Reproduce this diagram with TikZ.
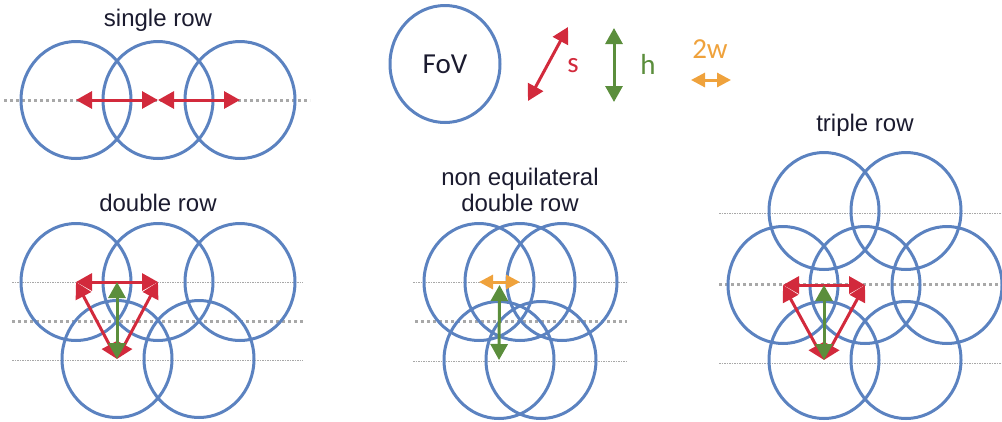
\documentclass[tikz,border=0pt]{standalone}
\usepackage{fontspec}
\setmainfont{Liberation Sans}
\newfontfamily\symfont{Carlito}
\usetikzlibrary{calc, arrows.meta}

\begin{document}
\begin{tikzpicture}[x=1pt, y=-1pt, >={Triangle[length=16pt, width=17pt]}]
    % --- Colores ---
    \definecolor{fovblue}{HTML}{5B82C0}
    \definecolor{sred}{HTML}{D22A3C}
    \definecolor{hgreen}{HTML}{5B8E3C}
    \definecolor{worange}{HTML}{EFA23C}
    \definecolor{rowgray}{HTML}{A8A8A8}
    \definecolor{titleink}{HTML}{1B1B2F}

    % --- Estilos ---
    \tikzset{
        fov/.style={fovblue, line width=3pt},
        rowthin/.style={rowgray, line width=1pt, dash pattern=on 1.5pt off 1pt},
        rowthick/.style={rowgray, line width=3pt, dash pattern=on 3pt off 3pt},
        sarrow/.style={sred, line width=3pt, <->},
        harrow/.style={hgreen, line width=3pt, <->},
        warrow/.style={worange, line width=3pt, <->, >={Triangle[length=14pt, width=14pt]}},
        title/.style={titleink, font=\fontsize{24}{26}\selectfont, align=center},
        sym/.style={font=\symfont\fontsize{29}{30}\selectfont}
    }
    \useasboundingbox (0,0) rectangle (1002,421);

    % --- Leyenda ---
    \coordinate (F) at (445,64);
    \draw[fov] (F) ellipse (55 and 58.5);
    \node[sym, titleink] at (F) {FoV};
    \coordinate (S1) at (568,27);
    \coordinate (S2) at (528,101);
    \draw[sarrow] (S1) -- (S2);
    \node[sym, sred] at (573,66) {s};
    \coordinate (H1) at (614,28);
    \coordinate (H2) at (614,102);
    \draw[harrow] (H1) -- (H2);
    \node[sym, hgreen] at (648,64) {h};
    \coordinate (W1) at (691,80);
    \coordinate (W2) at (731,80);
    \draw[warrow] (W1) -- (W2);
    \node[sym, worange] at (710,49) {2w};

    % --- Fila simple ---
    \node[title] at (158,20) {single row};
    \draw[rowthick] (4,100) -- (310,100);
    \foreach \i/\x in {1/76, 2/158, 3/240}
        \coordinate (a\i) at (\x,100);
    \foreach \i in {1,2,3}
        \draw[fov] (a\i) ellipse (55 and 58.5);
    \draw[sarrow] (a1) -- (a2);
    \draw[sarrow] (a2) -- (a3);

    % --- Fila doble ---
    \node[title] at (158,203) {double row};
    \draw[rowthin] (12,282) -- (303,282);
    \draw[rowthick] (12,321) -- (303,321);
    \draw[rowthin] (12,360) -- (303,360);
    \foreach \i/\x in {1/76, 2/158, 3/240}
        \coordinate (d\i) at (\x,282);
    \foreach \i/\x in {1/117, 2/199}
        \coordinate (e\i) at (\x,359);
    \foreach \c in {d1,d2,d3,e1,e2}
        \draw[fov] (\c) ellipse (55 and 58.5);
    \draw[sarrow] (d1) -- (d2);
    \draw[sarrow] (d1) -- (e1);
    \draw[sarrow] (d2) -- (e1);
    \draw[harrow] ($(d1)!0.5!(d2)$) -- (e1);

    % --- Fila doble no equilatera ---
    \node[title] at (520,190) {non equilateral\\double row};
    \draw[rowthin] (413,282) -- (628,282);
    \draw[rowthick] (415,321) -- (627,321);
    \draw[rowthin] (413,361) -- (628,361);
    \foreach \i/\x in {1/479, 2/520, 3/562}
        \coordinate (n\i) at (\x,282);
    \foreach \i/\x in {1/499, 2/541}
        \coordinate (m\i) at (\x,360);
    \foreach \c in {n1,n2,n3,m1,m2}
        \draw[fov] (\c) ellipse (55 and 58.5);
    \draw[warrow] (n1) -- (n2);
    \draw[harrow] ($(n1)!0.5!(n2)+(0,3)$) -- (m1);

    % --- Fila triple ---
    \node[title] at (865,125) {triple row};
    \draw[rowthin] (719,213) -- (1002,213);
    \draw[rowthick] (719,284) -- (1002,284);
    \draw[rowthin] (719,363) -- (1002,363);
    \foreach \i/\x in {1/824, 2/906}
        \coordinate (t\i) at (\x,211);
    \foreach \i/\x in {1/783, 2/865, 3/947}
        \coordinate (u\i) at (\x,285);
    \foreach \i/\x in {1/824, 2/906}
        \coordinate (v\i) at (\x,360);
    \foreach \c in {t1,t2,u1,u2,u3,v1,v2}
        \draw[fov] (\c) ellipse (55 and 58.5);
    \draw[sarrow] (u1) -- (u2);
    \draw[sarrow] (u1) -- (v1);
    \draw[sarrow] (u2) -- (v1);
    \draw[harrow] ($(u1)!0.5!(u2)$) -- (v1);
\end{tikzpicture}
\end{document}
